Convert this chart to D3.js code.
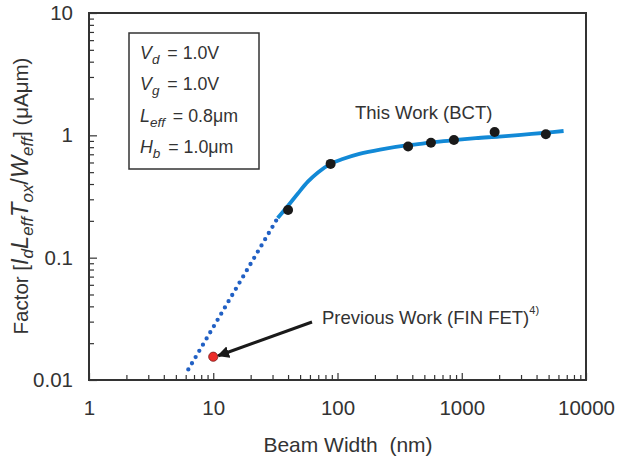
<!DOCTYPE html>
<html>
<head>
<meta charset="utf-8">
<script src="https://cdn.jsdelivr.net/npm/d3@7"></script>
<style>
  body { margin: 0; background: #fff; }
  svg { display: block; font-family: "Liberation Sans", Arial, sans-serif; }
</style>
</head>
<body>
<div id="chart"></div>
<script>
// measured points, "This Work (BCT)"
const bctPoints = [
    [40, 0.245], [88, 0.584], [370, 0.81], [565, 0.87],
    [865, 0.917], [1840, 1.066], [4750, 1.02]
];
// fitted curve
const fitCurve = [
    [33, 0.211], [40, 0.266], [48, 0.335], [58, 0.42], [70, 0.5],
    [88, 0.585], [110, 0.64], [150, 0.705], [220, 0.765], [370, 0.83],
    [560, 0.87], [860, 0.915], [1300, 0.95], [2000, 0.977],
    [3000, 1.01], [4750, 1.05], [6600, 1.085]
];
// extrapolated part (dotted)
const extrapolation = [[6.3, 0.0122], [33, 0.211]];
const previousWork = [[10, 0.0155]];

const xMajor = [1, 10, 100, 1000, 10000];
const yMajor = [0.01, 0.1, 1, 10];
const xTickLabels = ['1', '10', '100', '1000', '10000'];
const yTickLabels = ['0.01', '0.1', '1', '10'];

const conditions = [
    ['V', 'd', ' = 1.0V'],
    ['V', 'g', ' = 1.0V'],
    ['L', 'eff', ' = 0.8\u03bcm'],
    ['H', 'b', ' = 1.0\u03bcm']
];

const width = 619;
const height = 460;
const margin = { top: 13, right: 33, bottom: 80, left: 89 };
const ink = '#333333';

const svg = d3.select('#chart').append('svg')
    .attr('width', width)
    .attr('height', height);

const xScale = d3.scaleLog().domain([1, 10000]).range([margin.left, width - margin.right]);
const yScale = d3.scaleLog().domain([0.01, 10]).range([height - margin.bottom, margin.top]);

const minorOf = (lo, hi) => {
    const out = [];
    for (let p = lo; p < hi; p *= 10) {
        for (let k = 2; k <= 9; k++) out.push(p * k);
    }
    return out;
};

// x axis
const xAxisG = svg.append('g').attr('transform', `translate(0, ${height - margin.bottom})`);
xAxisG.append('g')
    .call(d3.axisBottom(xScale).tickValues(minorOf(1, 10000)).tickSize(-5).tickFormat(''));
xAxisG.append('g')
    .call(d3.axisBottom(xScale).tickValues(xMajor).tickSize(-7).tickPadding(20)
        .tickFormat((d, i) => xTickLabels[i]));

// y axis
const yAxisG = svg.append('g').attr('transform', `translate(${margin.left}, 0)`);
yAxisG.append('g')
    .call(d3.axisLeft(yScale).tickValues(minorOf(0.01, 10)).tickSize(-5).tickFormat(''));
yAxisG.append('g')
    .call(d3.axisLeft(yScale).tickValues(yMajor).tickSize(-8).tickPadding(16)
        .tickFormat((d, i) => yTickLabels[i]));

svg.selectAll('.domain').remove();
svg.selectAll('.tick line').attr('stroke', ink).attr('stroke-width', 1.2);
svg.selectAll('.tick text').attr('fill', ink).style('font-size', '20.5px')
    .style('font-family', '"Liberation Sans", Arial, sans-serif');

// frame
svg.append('rect')
    .attr('x', margin.left)
    .attr('y', margin.top)
    .attr('width', width - margin.left - margin.right)
    .attr('height', height - margin.top - margin.bottom)
    .attr('fill', 'none')
    .attr('stroke', ink)
    .attr('stroke-width', 2);

const line = d3.line().x(d => xScale(d[0])).y(d => yScale(d[1]));

svg.append('path')
    .attr('d', line(extrapolation))
    .attr('fill', 'none')
    .attr('stroke', '#2160c4')
    .attr('stroke-width', 4.3)
    .attr('stroke-linecap', 'round')
    .attr('stroke-dasharray', '0 7.2');

svg.append('path')
    .attr('d', line.curve(d3.curveCatmullRom.alpha(0.5))(fitCurve))
    .attr('fill', 'none')
    .attr('stroke', '#1289d6')
    .attr('stroke-width', 3.8);

svg.selectAll('.bct')
    .data(bctPoints)
    .enter()
    .append('circle')
    .attr('cx', d => xScale(d[0]))
    .attr('cy', d => yScale(d[1]))
    .attr('r', 5)
    .attr('fill', '#1a1a1a');

svg.selectAll('.prev')
    .data(previousWork)
    .enter()
    .append('circle')
    .attr('cx', d => xScale(d[0]))
    .attr('cy', d => yScale(d[1]))
    .attr('r', 4.6)
    .attr('fill', '#ec2e2a')
    .attr('stroke', '#7a1a1a')
    .attr('stroke-width', 0.8);

// arrow to previous work
svg.append('defs').append('marker')
    .attr('id', 'head')
    .attr('viewBox', '0 0 10 10')
    .attr('refX', 9)
    .attr('refY', 5)
    .attr('markerWidth', 4)
    .attr('markerHeight', 4)
    .attr('orient', 'auto')
    .append('path')
    .attr('d', 'M0,0 L10,5 L0,10 Z')
    .attr('fill', '#1a1a1a');

const px = xScale(previousWork[0][0]);
const py = yScale(previousWork[0][1]);
svg.append('line')
    .attr('x1', 312)
    .attr('y1', 322)
    .attr('x2', px + 5)
    .attr('y2', py - 1)
    .attr('stroke', '#1a1a1a')
    .attr('stroke-width', 3)
    .attr('marker-end', 'url(#head)');

// annotations
svg.append('text')
    .attr('x', 355)
    .attr('y', 119)
    .attr('fill', ink)
    .style('font-size', '18.5px')
    .text('This Work (BCT)');

const prevLabel = svg.append('text')
    .attr('x', 322)
    .attr('y', 324)
    .attr('fill', ink)
    .style('font-size', '18.5px');
prevLabel.append('tspan').text('Previous Work (FIN FET)');
prevLabel.append('tspan').attr('dy', -10).style('font-size', '11px').text('4)');

// condition box
svg.append('rect')
    .attr('x', 129)
    .attr('y', 33)
    .attr('width', 130)
    .attr('height', 136)
    .attr('fill', '#fff')
    .attr('stroke', ink)
    .attr('stroke-width', 1.5);

conditions.forEach((c, i) => {
    const t = svg.append('text')
        .attr('x', 140)
        .attr('y', 59 + i * 31.4)
        .attr('fill', ink)
        .style('font-size', '17.8px');
    t.append('tspan').style('font-style', 'italic').text(c[0]);
    t.append('tspan').attr('dy', 5).style('font-style', 'italic').style('font-size', '13.5px').text(c[1]);
    t.append('tspan').attr('dy', -5).attr('dx', 3).text(c[2]);
});

// y label
const yLab = svg.append('text')
    .attr('transform', `translate(28, 196) rotate(-90)`)
    .attr('text-anchor', 'middle')
    .attr('fill', ink)
    .style('font-size', '20.5px');
const parts = [
    ['Factor [', 0, null, false],
    ['I', 0, 23.5, true],
    ['d', 5, 17, true],
    ['L', -5, 23.5, true],
    ['eff', 5, 17, true],
    ['T', -5, 23.5, true],
    ['ox', 5, 17, true],
    ['/', -5, 23.5, false],
    ['W', 0, 23.5, true],
    ['eff', 5, 17, true],
    ['] (\u03bcA\u03bcm)', -5, null, false]
];
parts.forEach(p => {
    const s = yLab.append('tspan').attr('dy', p[1]).text(p[0]);
    if (p[2]) s.style('font-size', p[2] + 'px');
    if (p[3]) s.style('font-style', 'italic');
});

// x label
svg.append('text')
    .attr('x', 348)
    .attr('y', 452)
    .attr('text-anchor', 'middle')
    .attr('fill', ink)
    .style('font-size', '21px')
    .attr('xml:space', 'preserve')
    .text('Beam Width  (nm)');
</script>
</body>
</html>
